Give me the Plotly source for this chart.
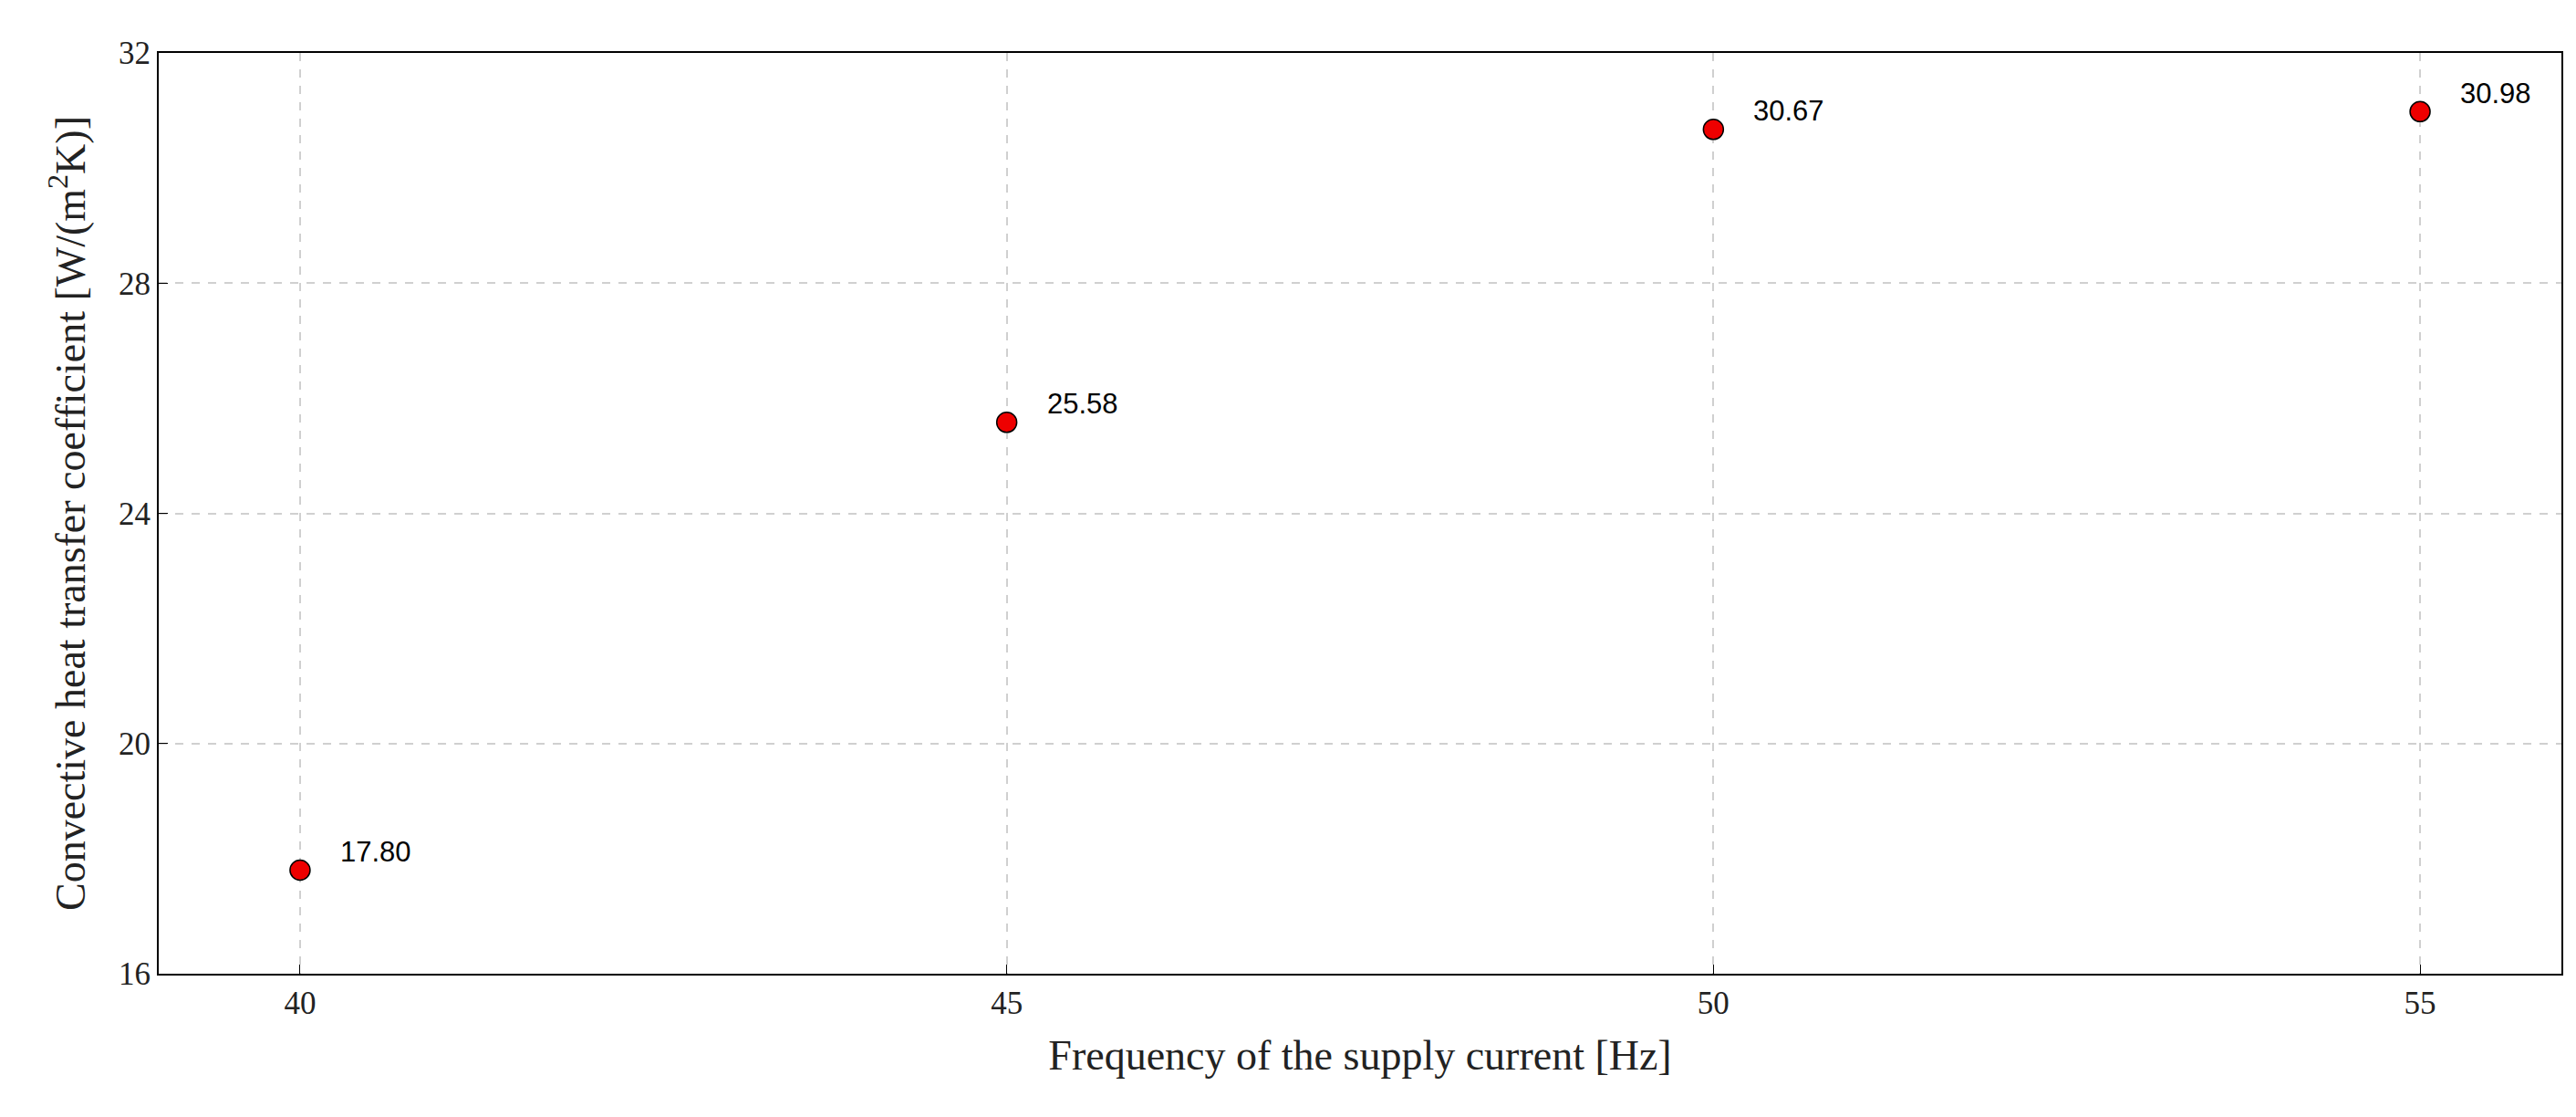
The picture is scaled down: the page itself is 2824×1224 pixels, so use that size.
import plotly.graph_objects as go

freq = [40, 45, 50, 55]
htc = [17.80, 25.58, 30.67, 30.98]
labels = ["17.80", "25.58", "30.67", "30.98"]
xticks = [40, 45, 50, 55]
yticks = [16, 20, 24, 28, 32]

fig = go.Figure(go.Scatter(
    x=freq, y=htc, mode="markers",
    marker=dict(size=22, color="#ee0000", line=dict(color="black", width=1.5))))

for x, y, t in zip(freq, htc, labels):
    fig.add_annotation(x=x, y=y, text=t, showarrow=False, xanchor="left",
                       xshift=42, yshift=20,
                       font=dict(family="Liberation Sans", size=31, color="black"))

axis_common = dict(showline=True, linecolor="black", linewidth=2, mirror=True,
                   showgrid=True, gridcolor="#d0d0d0", griddash="dash", gridwidth=1.5,
                   ticks="inside", ticklen=10, tickcolor="black", zeroline=False,
                   tickfont=dict(family="Liberation Serif", size=35, color="#222"))

fig.update_xaxes(range=[39, 56], tickvals=xticks, **axis_common,
                 title=dict(text="Frequency of the supply current [Hz]",
                            font=dict(family="Liberation Serif", size=46, color="#222"), standoff=22))
fig.update_yaxes(range=[16, 32], tickvals=yticks, **axis_common,
                 title=dict(text="Convective heat transfer coefficient [W/(m<sup>2</sup>K)]",
                            font=dict(family="Liberation Serif", size=46, color="#222"), standoff=22))

fig.update_layout(width=2824, height=1224, plot_bgcolor="white", paper_bgcolor="white",
                  margin=dict(l=166, r=24, t=50, b=165), showlegend=False)
fig.write_html("out.html")
